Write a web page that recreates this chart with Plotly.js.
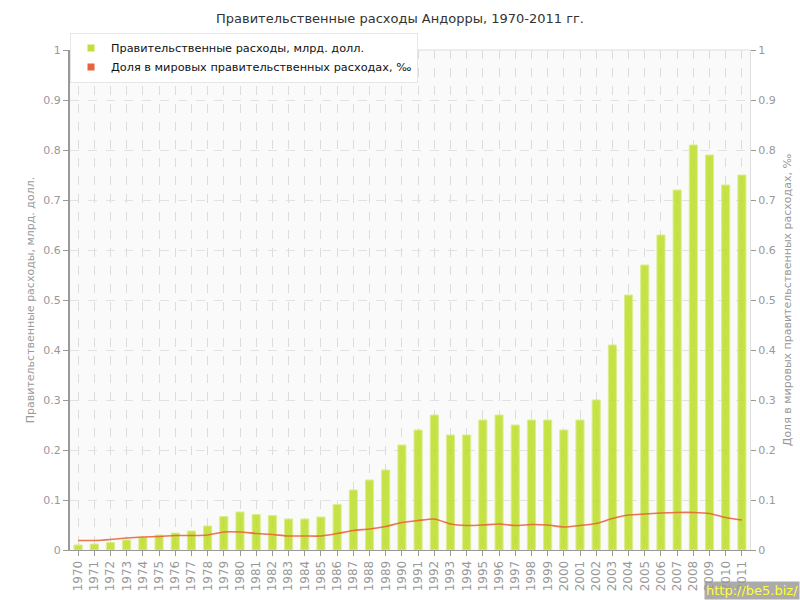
<!DOCTYPE html>
<html>
<head>
<meta charset="utf-8">
<script src="https://cdn.plot.ly/plotly-3.0.1.min.js"></script>
<style>html,body{margin:0;padding:0;background:#fff;}#chart{width:800px;height:600px;}</style>
</head>
<body>
<div id="chart"></div>
<script>
const years = ["1970","1971","1972","1973","1974","1975","1976","1977","1978","1979","1980","1981","1982","1983","1984","1985","1986","1987","1988","1989","1990","1991","1992","1993","1994","1995","1996","1997","1998","1999","2000","2001","2002","2003","2004","2005","2006","2007","2008","2009","2010","2011"];
const spending = [0.01,0.012,0.015,0.02,0.025,0.03,0.034,0.038,0.048,0.067,0.076,0.071,0.069,0.062,0.062,0.066,0.091,0.12,0.14,0.16,0.21,0.24,0.27,0.23,0.23,0.26,0.27,0.25,0.26,0.26,0.24,0.26,0.30,0.41,0.51,0.57,0.63,0.72,0.81,0.79,0.73,0.75];
const share = [0.019,0.019,0.021,0.024,0.026,0.027,0.029,0.029,0.03,0.036,0.036,0.033,0.031,0.028,0.028,0.028,0.033,0.039,0.042,0.047,0.055,0.059,0.062,0.052,0.049,0.05,0.052,0.049,0.051,0.05,0.046,0.049,0.053,0.063,0.07,0.072,0.074,0.075,0.075,0.073,0.065,0.06];
const yTicks = [0,0.1,0.2,0.3,0.4,0.5,0.6,0.7,0.8,0.9,1];
const yTickText = ["0","0.1","0.2","0.3","0.4","0.5","0.6","0.7","0.8","0.9","1"];

const seriesNames = ["Правительственные расходы, млрд. долл.", "Доля в мировых правительственных расходах, ‰"];
const barColor = "#c3dd3a";
const lineColor = "#e8643a";

const traces = [
  {type:"bar", x:years, y:spending, name:seriesNames[0], showlegend:false, opacity:0.85,
   marker:{color:"rgb(188,222,40)", line:{color:"rgb(215,236,120)", width:1}}, hoverinfo:"x+y"},
  {type:"scatter", mode:"lines", x:years, y:share, yaxis:"y2", name:seriesNames[1], showlegend:false,
   line:{color:"rgba(232,95,50,0.85)", width:1.6, shape:"spline", smoothing:0.6}},
  {type:"scatter", mode:"markers", x:[null], y:[null], name:seriesNames[0],
   marker:{symbol:"square", size:7, color:barColor}},
  {type:"scatter", mode:"markers", x:[null], y:[null], name:seriesNames[1],
   marker:{symbol:"square", size:7, color:lineColor}}
];

const axisFont = {family:"DejaVu Sans, Verdana, sans-serif", size:11, color:"#999"};
const layout = {
  width:800, height:600,
  margin:{l:70, r:50, t:50, b:50},
  paper_bgcolor:"#ffffff",
  plot_bgcolor:"#fafafa",
  font:{family:"DejaVu Sans, Verdana, sans-serif", color:"#333"},
  title:{text:"Правительственные расходы Андорры, 1970-2011 гг.", font:{size:13, color:"#333"}, x:0.5, xanchor:"center", y:0.97, yanchor:"middle"},
  bargap:0.5,
  xaxis:{type:"category", range:[-0.5,41.5], tickangle:-90, tickfont:{family:"DejaVu Sans, Verdana, sans-serif", size:12, color:"#999"},
    showgrid:true, gridcolor:"#dcdcdc", griddash:"dash", gridwidth:1,
    ticks:"outside", ticklen:5, tickcolor:"#999", showline:true, linecolor:"#999", linewidth:1, zeroline:false, automargin:false, fixedrange:true},
  yaxis:{range:[0,1], tickvals:yTicks, ticktext:yTickText, tickfont:axisFont,
    showgrid:true, gridcolor:"#e2e2e2", griddash:"dash", gridwidth:1,
    ticks:"outside", ticklen:5, tickcolor:"#999", showline:true, linecolor:"#999", linewidth:2, zeroline:false,
    title:{text:"Правительственные расходы, млрд. долл.", font:{size:11, color:"#999"}, standoff:6}, automargin:false, fixedrange:true},
  yaxis2:{range:[0,1], overlaying:"y", side:"right", tickvals:yTicks, ticktext:yTickText, tickfont:axisFont,
    showgrid:false, ticks:"outside", ticklen:5, tickcolor:"#999", showline:true, linecolor:"#ddd", linewidth:1, zeroline:false,
    title:{text:"Доля в мировых правительственных расходах, ‰", font:{size:11, color:"#999"}, standoff:8}, automargin:false, fixedrange:true},
  legend:{x:0.0, y:1.035, xanchor:"left", yanchor:"top", bgcolor:"#ffffff", bordercolor:"#e6e6e6", borderwidth:1,
    font:{family:"DejaVu Sans, Verdana, sans-serif", size:11.3, color:"#111"}, itemclick:false, tracegroupgap:0},
  shapes:[{type:"line", xref:"paper", yref:"paper", x0:0, x1:1, y0:1, y1:1, line:{color:"#ddd", width:1}}],
  annotations:[{xref:"paper", yref:"paper", x:1.0735, y:-0.1, xanchor:"right", yanchor:"bottom", text:"http://be5.biz/",
    showarrow:false, bgcolor:"rgba(150,150,150,0.8)", font:{family:"DejaVu Sans, Verdana, sans-serif", size:13, color:"#ffff33"}, borderpad:1}]
};

Plotly.newPlot("chart", traces, layout, {displayModeBar:false, staticPlot:true});
</script>
</body>
</html>
